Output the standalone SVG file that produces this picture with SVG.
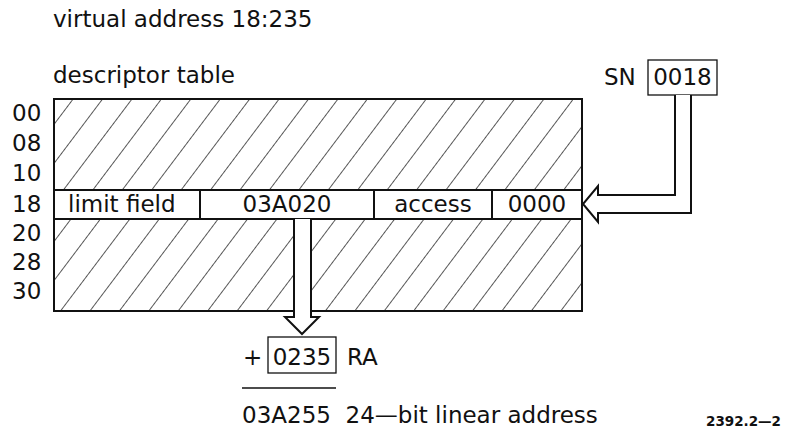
<svg xmlns="http://www.w3.org/2000/svg" width="794" height="429" viewBox="0 0 794 429">
<style>
text{font-family:"DejaVu Sans","Liberation Sans",sans-serif;font-size:23px;fill:#111}
.ln{fill:none;stroke:#111;stroke-width:2}
.box{fill:#fff;stroke:#111;stroke-width:1.3}
.c{text-anchor:middle}
</style>
<defs>
<pattern id="hatch" patternUnits="userSpaceOnUse" width="23.5" height="20" patternTransform="rotate(37)">
<line x1="0" y1="-5" x2="0" y2="25" stroke="#111" stroke-width="1.4"/>
</pattern>
</defs>
<rect width="794" height="429" fill="#fff"/>
<text x="53" y="27">virtual address 18:235</text>
<text x="53" y="83">descriptor table</text>
<g id="labels">
<text x="12" y="121">00</text>
<text x="12" y="151">08</text>
<text x="12" y="181">10</text>
<text x="12" y="212">18</text>
<text x="12" y="241">20</text>
<text x="12" y="270">28</text>
<text x="12" y="299">30</text>
</g>
<g id="table">
<rect x="54" y="99" width="528" height="212" fill="url(#hatch)"/>
<rect x="54" y="190" width="528" height="29" fill="#fff"/>
<rect x="54" y="99" width="528" height="212" class="ln"/>
<path class="ln" d="M54 190H582M54 219H582M200 190V219M374 190V219M492 190V219"/>
<text x="68" y="212">limit field</text>
<text x="287" y="212" class="c">03A020</text>
<text x="433" y="212" class="c">access</text>
<text x="537" y="212" class="c">0000</text>
</g>
<g id="sn">
<text x="604" y="85">SN</text>
<rect x="648" y="60" width="69" height="35" class="box"/>
<text x="682.5" y="85" class="c">0018</text>
</g>
<g id="connectors">
<path d="M675 95V195H598V186L583 204L598 222V213H691V95" fill="#fff" stroke="#111" stroke-width="2" stroke-linejoin="miter"/>
<path d="M294 219V317H285L302 334L319 317H311V219" fill="#fff" stroke="#111" stroke-width="2"/>
</g>
<g id="sum">
<text x="243" y="365">+</text>
<rect x="268" y="337" width="68" height="36" class="box"/>
<text x="302" y="365" class="c">0235</text>
<text x="347" y="365">RA</text>
<line x1="242" y1="388" x2="336" y2="388" stroke="#111" stroke-width="1.3"/>
<text x="242" y="423">03A255&#160; 24—bit linear address</text>
</g>
<text x="706" y="426" style="font-size:13.5px;font-weight:bold">2392.2—2</text>
</svg>
